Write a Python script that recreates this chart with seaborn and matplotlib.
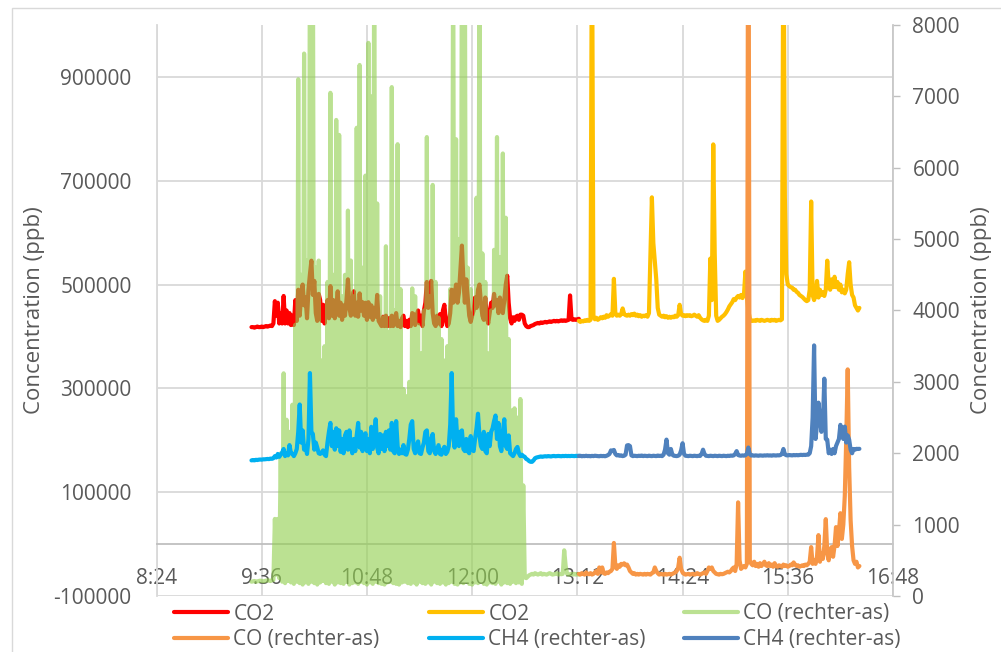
import numpy as np
import pandas as pd
import matplotlib
matplotlib.use("Agg")
import matplotlib.pyplot as plt
import seaborn as sns
from matplotlib.lines import Line2D
from matplotlib.patches import Rectangle
from matplotlib.ticker import FuncFormatter

sns.set_style("white")
plt.rcParams['font.family'] = ['Open Sans', 'DejaVu Sans']

# ---------------- data (1-minute samples) ----------------
START_A = "09:29"   # first part (before 13:13)
START_B = "13:13"   # second part
STEP_MIN = 1

CO2_A = [418000, 418000, 417000, 418000, 419000, 418000, 418000, 419000, 418000, 419000, 420000, 419000, 420000, 421000, 420000, 425000,
         468000, 440000, 465000, 425000, 445000, 425000, 478000, 425000, 450000, 425000,
         445000, 422000, 440000, 422000, 470000, 430000, 490000, 440000, 480000, 500000,
         460000, 475000, 435000, 490000, 520000, 546000, 480000, 507000, 445000, 430000,
         482000, 470000, 430000, 461000, 425000, 450000, 470000, 435000, 497000, 440000,
         470000, 435000, 455000, 487000, 440000, 465000, 432000, 460000, 440000, 470000,
         510000, 455000, 440000, 470000, 487000, 440000, 465000, 438000, 483000, 450000,
         466000, 440000, 465000, 432000, 466000, 438000, 460000, 432000, 455000, 438000,
         480000, 430000, 425000, 420000, 438000, 420000, 440000, 420000, 435000, 420000,
         440000, 420000, 432000, 445000, 420000, 430000, 418000, 435000, 440000, 420000,
         430000, 418000, 432000, 420000, 445000, 443000, 422000, 440000, 450000, 425000,
         440000, 420000, 450000, 465000, 505000, 455000, 480000, 507000, 445000, 425000,
         420000, 440000, 425000, 443000, 420000, 450000, 461000, 430000, 420000, 425000,
         445000, 490000, 465000, 480000, 500000, 465000, 485000, 530000, 575000, 510000,
         465000, 510000, 475000, 440000, 428000, 440000, 450000, 475000, 455000, 490000,
         500000, 465000, 440000, 432000, 475000, 438000, 425000, 445000, 465000, 455000,
         482000, 460000, 470000, 445000, 475000, 455000, 445000, 470000, 500000, 517000,
         465000, 435000, 425000, 437000, 430000, 438000, 440000, 432000, 442000, 442000,
         440000, 425000,
         420000, 418000, 418000, 420000, 421000, 422000, 424000, 425000, 426000, 425000,
         427000, 426000, 427000, 428000, 427000, 428000, 429000, 428000, 429000, 430000,
         429000, 430000, 429000, 430000, 431000, 430000, 431000, 430000, 431000, 432000,
         479000, 433000, 432000, 433000, 432000, 433000, 434000]

CO_A = [200, 205, 210, 200, 205, 210, 215, 210, 205, 210, 215, 220, 215, 210, 220, 225,
        1080, 300, 1080, 250, 2000, 200, 3120, 180, 2470, 210, 2300, 190, 2680, 170, 3800, 200, 7240, 180, 4500, 160,
        7600, 190, 4700, 170, 9500, 200, 9500, 180, 4600, 160, 4700, 190, 3300, 210, 3500, 180, 4400, 170, 7050, 200,
        4500, 160, 6670, 190, 6460, 180, 4200, 170, 4500, 200, 5400, 160, 4700, 180, 4200, 190, 6560, 170, 7440, 200,
        4600, 180, 5890, 160, 7750, 190, 7000, 170, 9500, 200, 5500, 180, 4200, 170, 3900, 160, 4900, 190, 3700, 200,
        7130, 180, 4000, 170, 6330, 160, 4300, 190, 2900, 200, 2800, 180, 3000, 170, 4310, 190, 4200, 160, 3800, 200,
        3400, 180, 4000, 170, 6430, 190, 4200, 160, 5760, 200, 4400, 180, 3900, 170, 3600, 190, 3300, 160, 3500, 180,
        4300, 200, 9500, 170, 6400, 160, 5000, 190, 9500, 180, 9500, 200, 4600, 170, 4300, 160, 3900, 190, 5580, 180,
        9500, 200, 4800, 170, 4400, 160, 3400, 190, 4000, 180, 4850, 170, 6430, 200, 4750, 160, 6200, 190, 5300, 180,
        3600, 170, 2600, 200, 2630, 180, 2500, 190, 2760, 170, 1550, 260,
        250, 270, 290, 300, 310, 300, 320, 310, 300, 310, 320, 300, 310, 305, 300, 310, 320, 310, 300, 305,
        310, 320, 300, 310, 305, 310, 640, 420, 310, 300, 305, 310, 300, 310, 300, 305, 300]

CH4_A = [1900, 1905, 1900, 1908, 1905, 1910, 1912, 1910, 1915, 1915, 1918, 1920, 1918, 1925, 1922, 1930,
         1960, 1940, 1990, 1950, 1980, 2010, 2060, 1960, 2000, 1970,
         2114, 2000, 1990, 1960, 2000, 2060, 2300, 2683, 2150, 2320,
         2050, 2100, 1990, 2200, 3123, 2300, 2270, 2050, 2150, 2080,
         2000, 1990, 2010, 2040, 1980, 1960, 2150, 2300, 2425, 2100,
         2300, 2050, 2350, 2100, 2320, 2020, 2200, 2000, 2250, 2300,
         2050, 2320, 2100, 2000, 2200, 2030, 2250, 2425, 2080, 2300,
         2030, 2200, 2280, 2030, 2200, 2000, 2370, 2060, 2250, 2476,
         2080, 2000, 2270, 2060, 2250, 2030, 2300, 2100, 2320, 2050,
         2425, 2030, 2000, 2450, 2100, 1990, 2050, 2000, 2114, 1990,
         1980, 2050, 2200, 2400, 2450, 2060, 2000, 2100, 2166, 2000,
         1990, 2080, 2150, 2300, 2320, 2030, 2000, 2200, 2269, 2030,
         1990, 2050, 2114, 1990, 1980, 2050, 2090, 1990, 2020, 2100,
         2400, 3123, 2250, 2080, 2476, 2150, 2100, 2300, 2320, 2060,
         2030, 2200, 2030, 2000, 2240, 2060, 2030, 2200, 2350, 2554,
         2250, 2100, 2060, 2300, 2030, 2000, 2270, 2100, 2300, 2350,
         2450, 2528, 2200, 2425, 2100, 2030, 2300, 2476, 2100, 2060,
         2250, 2000, 1980, 1960, 2000, 2060, 2088, 2000, 1960, 1980,
         1960, 1950, 1920, 1910, 1890, 1880, 1880, 1900, 1930, 1940,
         1945, 1950, 1955, 1950, 1955, 1958, 1955, 1960, 1958, 1955, 1960, 1962, 1958, 1960, 1962,
         1960, 1958, 1962, 1960, 1963, 1960, 1962, 1960, 1963, 1962, 1960, 1963, 1962, 1965]

CO2_B = [430000, 428000, 430000, 429000, 431000, 430000, 432000, 430000, 432000, 1250000,
         440000, 433000, 436000, 432000, 434000, 437000, 435000, 438000, 436000, 441000,
         438000, 440000, 443000, 440000, 511000, 445000, 440000, 442000, 440000, 443000,
         454000, 443000, 441000, 440000, 442000, 440000, 443000, 441000, 444000, 440000,
         442000, 439000, 441000, 438000, 440000, 439000, 441000, 438000, 445000, 560000,
         668000, 580000, 546000, 510000, 455000, 442000, 440000, 438000, 440000, 437000,
         439000, 436000, 438000, 436000, 438000, 437000, 440000, 438000, 441000, 461000,
         443000, 440000, 441000, 439000, 441000, 440000, 441000, 439000, 440000, 442000,
         440000, 438000, 441000, 436000, 433000, 431000, 430000, 432000, 430000, 440000,
         550000, 470000, 770000, 560000, 440000, 430000, 432000, 435000, 438000, 440000,
         443000, 447000, 452000, 458000, 462000, 466000, 472000, 470000, 475000, 478000,
         475000, 480000, 474000, 480000, 525000, 478000, 450000, 435000, 430000, 430000,
         431000, 430000, 432000, 431000, 430000, 432000, 431000, 430000, 431000, 432000,
         431000, 430000, 432000, 431000, 432000, 430000, 431000, 432000, 431000, 433000,
         1250000, 668000, 520000, 500000, 497000, 495000, 494000, 490000, 490000, 486000,
         484000, 480000, 478000, 476000, 473000, 470000, 468000, 470000, 490000, 660000,
         480000, 470000, 480000, 507000, 475000, 490000, 480000, 485000, 478000, 490000,
         546000, 500000, 490000, 510000, 495000, 515000, 495000, 505000, 490000, 500000,
         485000, 490000, 483000, 490000, 520000, 543000, 500000, 480000, 475000, 460000,
         455000, 450000, 455000]

CO_B = [310, 300, 320, 310, 300, 330, 310, 305, 320, 300,
        310, 330, 350, 310, 400, 330, 400, 320, 310, 330,
        320, 340, 350, 380, 743, 420, 380, 430, 410, 450,
        440, 458, 430, 440, 400, 350, 330, 310, 320, 300,
        310, 300, 310, 305, 300, 310, 300, 310, 305, 300,
        320, 330, 400, 350, 320, 300, 310, 305, 300, 310,
        300, 305, 310, 300, 310, 320, 330, 350, 400, 536,
        380, 330, 310, 300, 305, 310, 300, 305, 310, 300,
        305, 320, 310, 300, 310, 320, 330, 310, 350, 400,
        380, 400, 350, 330, 310, 305, 300, 310, 305, 310,
        320, 330, 340, 330, 350, 380, 400, 350, 450, 1312,
        500, 380, 400, 420, 400, 450, 12000, 500, 450, 430,
        480, 420, 450, 410, 460, 420, 450, 480, 430, 420,
        460, 420, 440, 410, 460, 420, 410, 430, 420, 410,
        440, 420, 430, 410, 420, 440, 430, 470, 440, 420,
        430, 410, 420, 430, 420, 440, 430, 450, 480, 685,
        450, 500, 450, 550, 853, 480, 600, 520, 700, 1077,
        600, 500, 650, 685, 550, 700, 965, 700, 900, 1160,
        800, 1000, 1400, 2200, 3175, 1800, 1060, 700, 500, 450,
        480, 400, 420]

CH4_B = [1960, 1965, 1958, 1962, 1960, 1965, 1960, 1962, 1958, 1963, 1960, 1965, 1962, 1960, 1958, 1963, 1960, 1962, 1958, 1965,
         1975, 1990, 2040, 2030, 2046, 1990, 1970, 1975, 1965, 1970,
         1960, 1965, 1980, 2110, 2114, 2100, 1970, 1960, 1965, 1962,
         1960, 1965, 1962, 1968, 1960, 1965, 1962, 1960, 1966, 1962,
         1960, 1965, 1962, 1960, 1968, 1962, 1965, 1960, 1980, 2050,
         2191, 2000, 1980, 2060, 1980, 1965, 1962, 1960, 1965, 1980,
         2040, 2140, 1990, 1965, 1962, 1960, 1965, 1962, 1960, 1965,
         1962, 1960, 1965, 1962, 1990, 2050, 1990, 1965, 1962, 1960,
         1965, 1962, 1960, 1965, 1962, 1960, 1965, 1962, 1960, 1965,
         1962, 1960, 1965, 1962, 1968, 1965, 1970, 1990, 2030, 1975,
         1968, 1965, 1970, 1966, 1972, 1990, 2080, 1990, 1968, 1970,
         1966, 1970, 1968, 1965, 1970, 1968, 1966, 1970, 1968, 1972,
         1968, 1970, 1966, 1972, 1970, 1968, 1972, 1970, 1975, 1990,
         2060, 1985, 1972, 1970, 1975, 1972, 1970, 1975, 1972, 1975,
         1972, 1975, 1978, 1975, 1978, 1976, 1980, 1980, 2000, 2100,
         2500, 3511, 2200, 2400, 2709, 2500, 2300, 2400, 3045, 2200,
         2190, 2000, 2050, 1990, 2060, 2000, 2100, 2150, 2200, 2398,
         2250, 2200, 2373, 2150, 2250, 2190, 2050, 2000, 2060, 2050,
         2062, 2060, 2062]

LEFT_TICKS = [-100000, 100000, 300000, 500000, 700000, 900000]
RIGHT_TICKS = [0, 1000, 2000, 3000, 4000, 5000, 6000, 7000, 8000]
X_TICKS = ["8:24", "9:36", "10:48", "12:00", "13:12", "14:24", "15:36", "16:48"]

LABELS = ["CO2", "CO2", "CO (rechter-as)", "CO (rechter-as)", "CH4 (rechter-as)", "CH4 (rechter-as)"]
COLORS = ["#FF0000", "#FFC000", "#92D050", "#F79646", "#00B0F0", "#4F81BD"]
Y_TITLE = "Concentration (ppb)"

for n, s in [(len(CO2_A), "CO2_A"), (len(CO_A), "CO_A"), (len(CH4_A), "CH4_A")]:
    if n != 225:
        raise ValueError(f"{s} has {n}")
for n, s in [(len(CO2_B), "CO2_B"), (len(CO_B), "CO_B"), (len(CH4_B), "CH4_B")]:
    if n != 193:
        raise ValueError(f"{s} has {n}")


def minutes(s):
    h, m = s.split(":")
    return int(h) * 60 + int(m)


def frame(start, values):
    t0 = minutes(start)
    return pd.DataFrame({"t": t0 + STEP_MIN * np.arange(len(values)), "v": values})


# ---------------- figure ----------------
W_PX, H_PX = 1001, 652
fig = plt.figure(figsize=(W_PX / 100, H_PX / 100), dpi=100)
x0, x1, ytop, ybot = 156.5, 893.0, 25.0, 596.0
ax = fig.add_axes([x0 / W_PX, 1 - ybot / H_PX, (x1 - x0) / W_PX, (ybot - ytop) / H_PX])
ax2 = ax.twinx()

TEXT = "#595959"
GRID = "#D9D9D9"
LW = 3.0
GREEN_ALPHA = 0.62

kw = dict(estimator=None, sort=False, legend=False, linewidth=LW, solid_capstyle="round", solid_joinstyle="round")
sns.lineplot(data=frame(START_A, CO2_A), x="t", y="v", ax=ax, color=COLORS[0], **kw)
sns.lineplot(data=frame(START_B, CO2_B), x="t", y="v", ax=ax, color=COLORS[1], **kw)
sns.lineplot(data=frame(START_A, CO_A), x="t", y="v", ax=ax2, color=COLORS[2], alpha=GREEN_ALPHA, **kw)
sns.lineplot(data=frame(START_B, CO_B), x="t", y="v", ax=ax2, color=COLORS[3], **kw)
sns.lineplot(data=frame(START_A, CH4_A), x="t", y="v", ax=ax2, color=COLORS[4], **kw)
sns.lineplot(data=frame(START_B, CH4_B), x="t", y="v", ax=ax2, color=COLORS[5], **kw)

# axes ranges
xt = [minutes(s) for s in X_TICKS]
ax.set_xlim(xt[0], xt[-1])
ax.set_ylim(-100000, 1000000)
ax2.set_ylim(0, 8000)
ax.set_xticks(xt)
ax.set_xticklabels(X_TICKS)
ax.set_yticks(LEFT_TICKS)
ax.yaxis.set_major_formatter(FuncFormatter(lambda v, p: f"{int(v)}"))
ax2.set_yticks(RIGHT_TICKS)
ax2.yaxis.set_major_formatter(FuncFormatter(lambda v, p: f"{int(v)}"))
for a in (ax, ax2):
    a.set_xlabel("")
    a.set_ylabel("")

ax.grid(True, axis="both", color=GRID, linewidth=1.3)
ax.set_axisbelow(True)

ax.spines["top"].set_visible(False)
ax.spines["right"].set_visible(False)
ax.spines["left"].set_color(GRID)
ax.spines["left"].set_linewidth(1.3)
ax.spines["bottom"].set_position(("data", 0))
ax.spines["bottom"].set_color("#BFBFBF")
ax.spines["bottom"].set_linewidth(1.3)
for s in ("top", "left", "bottom"):
    ax2.spines[s].set_visible(False)
ax2.spines["right"].set_color("#C8C8C8")
ax2.spines["right"].set_linewidth(1.3)

ax.tick_params(axis="x", length=0, pad=17, labelsize=15, labelcolor=TEXT)
ax.tick_params(axis="y", length=0, pad=18, labelsize=15, labelcolor=TEXT)
ax2.tick_params(axis="y", direction="out", length=5, width=1, color="#BFBFBF",
                pad=9, labelsize=15, labelcolor=TEXT)

fig.text(35 / W_PX, 1 - 310 / H_PX, Y_TITLE, rotation=90, ha="center", va="center",
         fontsize=16, color=TEXT)
fig.text(982 / W_PX, 1 - 310 / H_PX, Y_TITLE, rotation=90, ha="center", va="center",
         fontsize=16, color=TEXT)

# legend: three columns, two rows (row-major like the reference)
handles = []
for c in COLORS:
    handles.append(Line2D([], [], color=c, linewidth=LW,
                          alpha=GREEN_ALPHA if c == COLORS[2] else 1.0))
cols_x = [174, 429, 684]
pairs = [(0, 3), (1, 4), (2, 5)]
for cx, (a_i, b_i) in zip(cols_x, pairs):
    fig.legend([handles[a_i], handles[b_i]], [LABELS[a_i], LABELS[b_i]],
               loc="upper left", bbox_to_anchor=(cx / W_PX, 1 - 603.5 / H_PX),
               frameon=False, borderpad=0, borderaxespad=0, labelspacing=0.24,
               handlelength=2.6, handletextpad=0.25, fontsize=15, labelcolor=TEXT)

# outer chart border
fig.add_artist(Rectangle((12 / W_PX, -0.1), 2.0, 0.1 + (1 - 8 / H_PX), transform=fig.transFigure,
                         fill=False, edgecolor=GRID, linewidth=1.0))

fig.savefig("out.png", dpi=100)
